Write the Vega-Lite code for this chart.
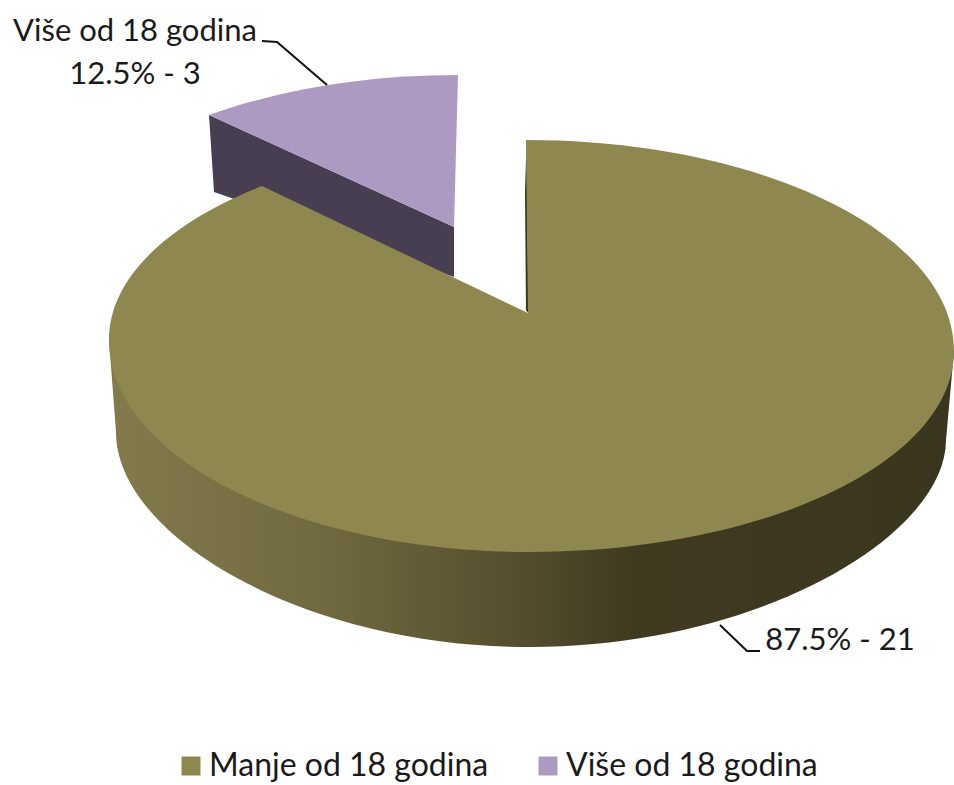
{"$schema":"https://vega.github.io/schema/vega-lite/v6.json","width":954,"height":785,"padding":0,"autosize":"none","background":"white","config":{"view":{"stroke":null},"font":"Lato"},"data":{"values":[{"category":"Manje od 18 godina","value":21,"percent":87.5,"label":"87.5% - 21"},{"category":"Više od 18 godina","value":3,"percent":12.5,"label":"Više od 18 godina\n12.5% - 3"}]},"layer":[{"transform":[{"filter":"datum.value == 3"}],"mark":{"type":"point","filled":true,"opacity":1,"size":4,"fill":"#483e52","stroke":null,"shape":"M-268,-277.5 L-263,-200.5 L-237,-191.5 L-23,-115.5 L-23,-165.5 Z"},"encoding":{}},{"transform":[{"filter":"datum.value == 21"}],"mark":{"type":"point","filled":true,"opacity":1,"size":4,"stroke":null,"fill":{"gradient":"linear","x1":0,"y1":0,"x2":1,"y2":0,"stops":[{"offset":0,"color":"#837b4b"},{"offset":0.25,"color":"#716a3f"},{"offset":0.5,"color":"#524c2d"},{"offset":0.62,"color":"#3f3a20"},{"offset":1,"color":"#3a351e"}]},"shape":"M-368,-52.5 L-361,39.5 C-361,142.5 -176,254.5 53,254.5 C283,254.5 469,142.5 469,47.5 L477,-41.5 Z"},"encoding":{}},{"transform":[{"filter":"datum.value == 21"}],"mark":{"type":"point","filled":true,"opacity":1,"size":4,"fill":"#3b3622","stroke":null,"shape":"M49.5,-250 L51.5,-79.5 L49,-82 L48,-200 Z"},"encoding":{}},{"transform":[{"filter":"datum.value == 3"}],"mark":{"type":"point","filled":true,"opacity":1,"size":4,"stroke":null,"shape":"M-23,-165.5 L-268,-277.5 C-192,-304.5 -107,-317.5 -19,-317.5 Z"},"encoding":{"color":{"field":"category","type":"nominal","scale":{"domain":["Manje od 18 godina","Više od 18 godina"],"range":["#8f8750","#ad9ac3"]},"legend":{"title":null,"orient":"none","legendX":175,"legendY":750,"direction":"horizontal","symbolType":"square","symbolSize":360,"symbolStrokeWidth":0,"labelFont":"Lato","labelFontSize":32,"labelColor":"#1a1a1a","labelLimit":400,"columnPadding":43,"labelOffset":2}}}},{"transform":[{"filter":"datum.value == 21"}],"mark":{"type":"point","filled":true,"opacity":1,"size":4,"stroke":null,"shape":"M51,-79.5 L49,-252.5 C286,-252.5 477,-158.5 477,-41.5 C477,69.5 287,159.5 53,159.5 C-180,159.5 -368,64.5 -368,-52.5 C-368,-114.5 -309,-169.5 -215,-206.5 Z"},"encoding":{"color":{"field":"category","type":"nominal"}}},{"transform":[{"filter":"datum.value == 3"}],"mark":{"type":"point","filled":false,"opacity":1,"size":4,"stroke":"#111111","strokeWidth":2,"shape":"M-215,-351.5 L-200,-350.5 L-150,-307.5"},"encoding":{}},{"transform":[{"filter":"datum.value == 21"}],"mark":{"type":"point","filled":false,"opacity":1,"size":4,"stroke":"#111111","strokeWidth":2,"shape":"M243,232.5 L270,258.5 L283,258.5"},"encoding":{}},{"transform":[{"filter":"datum.value == 3"}],"mark":{"type":"text","font":"Lato","fontSize":31,"color":"#1a1a1a","align":"center","baseline":"middle","lineBreak":"\n","lineHeight":43,"dx":-342,"dy":-361},"encoding":{"text":{"field":"label"}}},{"transform":[{"filter":"datum.value == 21"}],"mark":{"type":"text","font":"Lato","fontSize":31,"color":"#1a1a1a","align":"center","baseline":"middle","dx":363,"dy":248},"encoding":{"text":{"field":"label"}}}]}
